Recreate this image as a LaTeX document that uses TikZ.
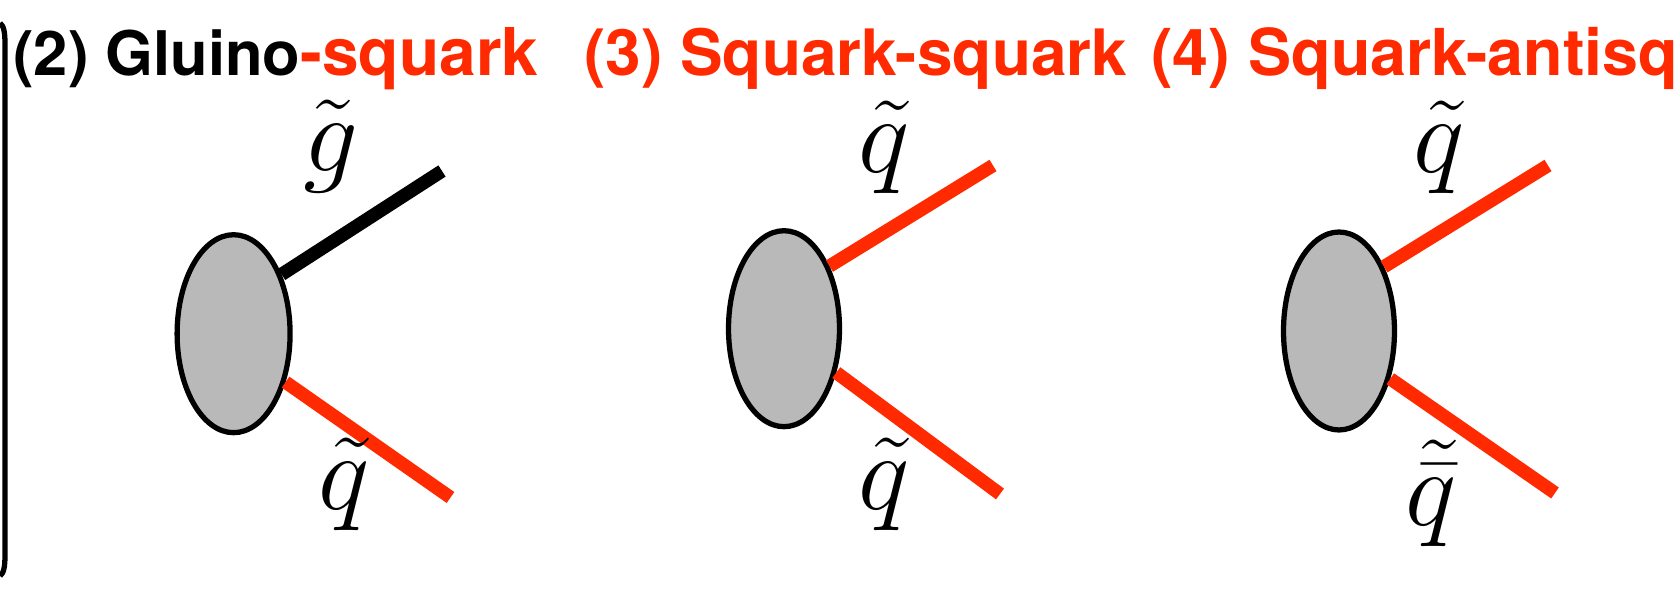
\documentclass[tikz,border=0pt]{standalone}
\usepackage{fix-cm}
\usepackage{amsmath,amssymb}
\usepackage{xcolor}
\usepackage{fontspec}
\setmainfont{TeX Gyre Heros}
\usetikzlibrary{shapes.geometric}
\definecolor{sqred}{HTML}{FF2A00}
\definecolor{blobgray}{HTML}{B9B9B9}

\begin{document}
\begin{tikzpicture}[x=0.02cm, y=-0.02cm,
		blob/.style={ellipse, draw=black, fill=blobgray, line width=3pt, inner sep=0pt},
		leg/.style={line width=7.6pt},
		title/.style={anchor=base west, inner sep=0pt, font=\fontsize{36.8}{44}\selectfont\bfseries},
		mass/.style={anchor=base, inner sep=0pt, font=\fontsize{62}{70}\selectfont}]
		
		% --- 1. page ---
		\useasboundingbox (0, 0) rectangle (1674, 590);
		
		% --- 2. bracket on the left edge ---
		\coordinate (brTop) at (0, 23);
		\coordinate (brBot) at (0, 576);
		\draw[line width=3pt] (brTop) .. controls (4, 26) and (5, 33) .. (5, 44) -- (5, 555)
			.. controls (5, 566) and (4, 573) .. (brBot);
		
		% --- 3. titles ---
		\node[title] (titleA) at (13, 76) {\fontsize{35}{44}\selectfont (2) Gluino\fontsize{37.5}{44}\selectfont\textcolor{sqred}{-squark}};
		\node[title, text=sqred] (titleB) at (584, 76) {\fontsize{36.4}{44}\selectfont (3) Squark-squark};
		\node[title, text=sqred] (titleC) at (1151, 76) {(4) Squark-antisq};
		
		% --- 4. blobs ---
		\node[blob, minimum width=2.26cm, minimum height=3.96cm] (blobA) at (233.6, 333.7) {};
		\node[blob, minimum width=2.22cm, minimum height=3.92cm] (blobB) at (784, 328.7) {};
		\node[blob, minimum width=2.22cm, minimum height=3.96cm] (blobC) at (1339, 331) {};
		
		% --- 5. outgoing legs ---
		\coordinate (upA) at (442, 171);
		\coordinate (dnA) at (450.5, 497.5);
		\coordinate (upB) at (993, 165.5);
		\coordinate (dnB) at (1000, 494);
		\coordinate (upC) at (1548, 165.5);
		\coordinate (dnC) at (1555, 493);
		
		\draw[leg, black] (blobA.51.8) -- (upA);
		\draw[leg, sqred] (blobA.-43) -- (dnA);
		\draw[leg, sqred] (blobB.54.4) -- (upB);
		\draw[leg, sqred] (blobB.-40.6) -- (dnB);
		\draw[leg, sqred] (blobC.55.6) -- (upC);
		\draw[leg, sqred] (blobC.-43.7) -- (dnC);
		
		% --- 6. particle labels ---
		\node[mass] (gA) at (331, 172) {$\tilde{g}$};
		\node[mass] (qA) at (344, 510) {$\tilde{q}$};
		\node[mass] (qB) at (884, 173) {$\tilde{q}$};
		\node[mass] (qBb) at (884, 510) {$\tilde{q}$};
		\node[mass] (qC) at (1439, 173) {$\tilde{q}$};
		\node[mass] (qCb) at (1431, 526) {$\tilde{\bar{q}}$};
		
	\end{tikzpicture}
\end{document}
